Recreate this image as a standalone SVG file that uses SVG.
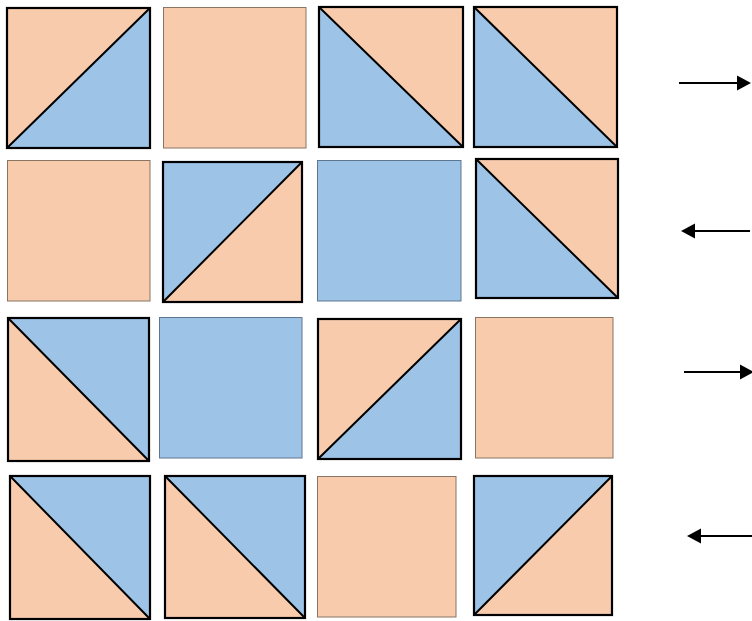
<svg xmlns="http://www.w3.org/2000/svg" width="752" height="621" viewBox="0 0 752 621">
<style>
.o{fill:#F8CBAD}
.b{fill:#9DC3E6}
.edge{fill:none;stroke:#000;stroke-width:2.2;stroke-linejoin:miter}
.diag{stroke:#000;stroke-width:2;stroke-linecap:round}
.po{fill:#F8CBAD;stroke:#8a7563;stroke-width:1}
.pb{fill:#9DC3E6;stroke:#5f7690;stroke-width:1}
.arr{stroke:#000;stroke-width:2.2;fill:none}
.head{fill:#000}
</style>
<rect width="752" height="621" fill="#fff"/>
<!-- Row 1 -->
<g id="t00"><polygon class="o" points="7,8 150,8 7,148"/><polygon class="b" points="150,8 150,148 7,148"/><line class="diag" x1="7" y1="148" x2="150" y2="8"/><rect class="edge" x="7" y="8" width="143" height="140"/></g>
<g id="t01"><rect class="po" x="163.5" y="7.5" width="142.5" height="140.5"/></g>
<g id="t02"><polygon class="o" points="319,7 463,7 463,147"/><polygon class="b" points="319,7 463,147 319,147"/><line class="diag" x1="319" y1="7" x2="463" y2="147"/><rect class="edge" x="319" y="7" width="144" height="140"/></g>
<g id="t03"><polygon class="o" points="474,7 617,7 617,147"/><polygon class="b" points="474,7 617,147 474,147"/><line class="diag" x1="474" y1="7" x2="617" y2="147"/><rect class="edge" x="474" y="7" width="143" height="140"/></g>
<!-- Row 2 -->
<g id="t10"><rect class="po" x="7.5" y="160.5" width="142.5" height="140.5"/></g>
<g id="t11"><polygon class="b" points="163,162 302,162 163,302"/><polygon class="o" points="302,162 302,302 163,302"/><line class="diag" x1="163" y1="302" x2="302" y2="162"/><rect class="edge" x="163" y="162" width="139" height="140"/></g>
<g id="t12"><rect class="pb" x="317.5" y="160.5" width="143.5" height="140.5"/></g>
<g id="t13"><polygon class="o" points="476,159 618,159 618,298"/><polygon class="b" points="476,159 618,298 476,298"/><line class="diag" x1="476" y1="159" x2="618" y2="298"/><rect class="edge" x="476" y="159" width="142" height="139"/></g>
<!-- Row 3 -->
<g id="t20"><polygon class="b" points="8,318 149,318 149,461"/><polygon class="o" points="8,318 149,461 8,461"/><line class="diag" x1="8" y1="318" x2="149" y2="461"/><rect class="edge" x="8" y="318" width="141" height="143"/></g>
<g id="t21"><rect class="pb" x="159.5" y="317.5" width="142.5" height="140.5"/></g>
<g id="t22"><polygon class="o" points="318,319 461,319 318,459"/><polygon class="b" points="461,319 461,459 318,459"/><line class="diag" x1="318" y1="459" x2="461" y2="319"/><rect class="edge" x="318" y="319" width="143" height="140"/></g>
<g id="t23"><rect class="po" x="475.5" y="317.5" width="137.5" height="140.5"/></g>
<!-- Row 4 -->
<g id="t30"><polygon class="b" points="10,476 150,476 150,619"/><polygon class="o" points="10,476 150,619 10,619"/><line class="diag" x1="10" y1="476" x2="150" y2="619"/><rect class="edge" x="10" y="476" width="140" height="143"/></g>
<g id="t31"><polygon class="b" points="165,476 305,476 305,618"/><polygon class="o" points="165,476 305,618 165,618"/><line class="diag" x1="165" y1="476" x2="305" y2="618"/><rect class="edge" x="165" y="476" width="140" height="142"/></g>
<g id="t32"><rect class="po" x="317.5" y="476.5" width="138.5" height="140.5"/></g>
<g id="t33"><polygon class="b" points="474,476 612,476 474,615"/><polygon class="o" points="612,476 612,615 474,615"/><line class="diag" x1="474" y1="615" x2="612" y2="476"/><rect class="edge" x="474" y="476" width="138" height="139"/></g>
<!-- Arrows -->
<g id="connectors">
<line class="arr" x1="679" y1="83" x2="738" y2="83"/><polygon class="head" points="751,83 737,75.5 737,90.5"/>
<line class="arr" x1="694" y1="231" x2="750" y2="231"/><polygon class="head" points="681,231 695,223.5 695,238.5"/>
<line class="arr" x1="684" y1="372" x2="741" y2="372"/><polygon class="head" points="754,372 740,364.5 740,379.5"/>
<line class="arr" x1="700" y1="536" x2="752" y2="536"/><polygon class="head" points="687,536 701,528.5 701,543.5"/>
</g>
</svg>
